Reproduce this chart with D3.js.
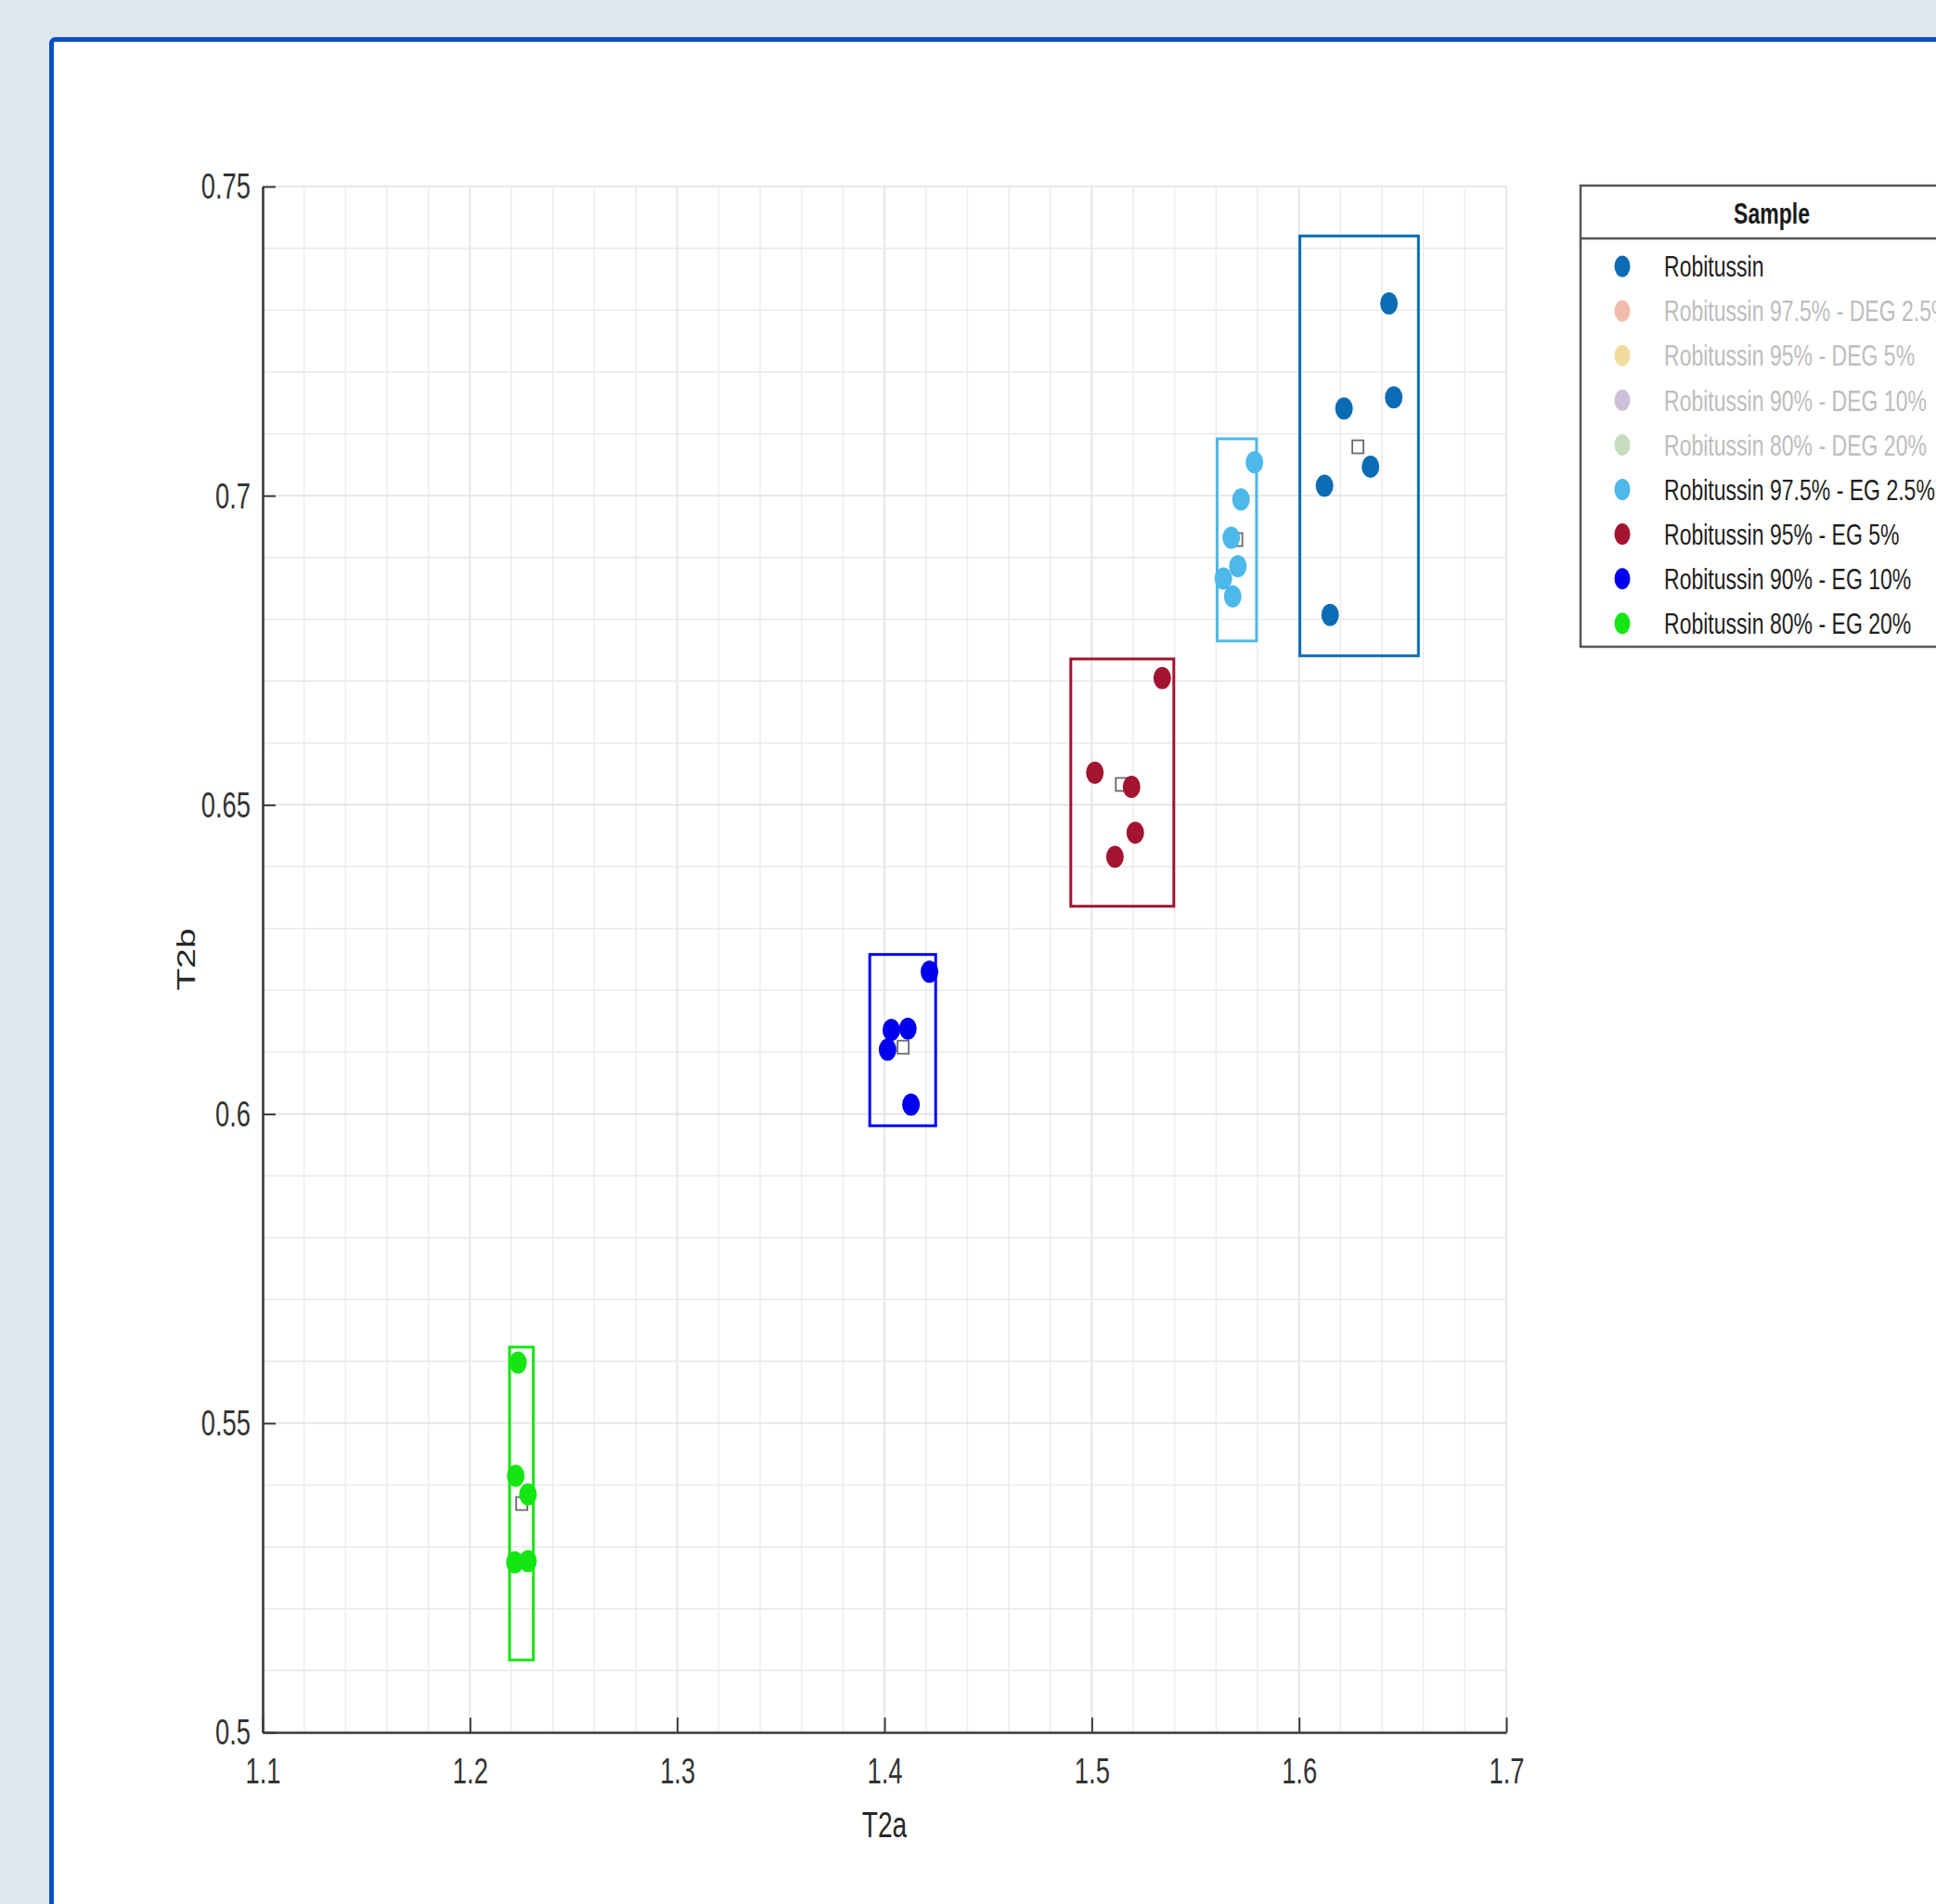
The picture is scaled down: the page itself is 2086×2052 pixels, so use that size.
<!DOCTYPE html>
<html>
<head>
<meta charset="utf-8">
<script src="https://cdn.jsdelivr.net/npm/d3@7"></script>
<style>
body { margin: 0; background: #dfe6ee; overflow: hidden; }
svg { display: block; }
text { font-family: "Liberation Sans", Arial, Helvetica, sans-serif; }
</style>
</head>
<body>
<script>
// legend entries (all 9 samples, only 5 are plotted)
var sampleNames = ["Robitussin", "Robitussin 97.5% - DEG 2.5%", "Robitussin 95% - DEG 5%",
  "Robitussin 90% - DEG 10%", "Robitussin 80% - DEG 20%", "Robitussin 97.5% - EG 2.5%",
  "Robitussin 95% - EG 5%", "Robitussin 90% - EG 10%", "Robitussin 80% - EG 20%"];
var sampleColors = ["#0b6cb3", "#efbcaa", "#f1dc9e", "#cfc0d9", "#c6dcbd",
  "#4cb9ea", "#a2142f", "#0000ee", "#14e614"];
var sampleShown = [true, false, false, false, false, true, true, true, true];

// measured points of the plotted samples (T2a, T2b)
var robT2a = [1.6434, 1.6217, 1.6457, 1.6123, 1.6345, 1.6150];
var robT2b = [0.7311, 0.7141, 0.7159, 0.7016, 0.7047, 0.6807];
var eg25T2a = [1.5785, 1.5720, 1.5673, 1.5705, 1.5635, 1.5680];
var eg25T2b = [0.7054, 0.6994, 0.6932, 0.6886, 0.6866, 0.6837];
var eg5T2a = [1.5340, 1.5015, 1.5192, 1.5210, 1.5112];
var eg5T2b = [0.6705, 0.6552, 0.6529, 0.6455, 0.6416];
var eg10T2a = [1.4217, 1.4033, 1.4113, 1.4015, 1.4128];
var eg10T2b = [0.6230, 0.6136, 0.6138, 0.6104, 0.6015];
var eg20T2a = [1.2232, 1.2221, 1.2280, 1.2217, 1.2280];
var eg20T2b = [0.5598, 0.5415, 0.5385, 0.5275, 0.5277];

// group summaries: mean marker and mean +/- 2 sd box, order rob, eg25, eg5, eg10, eg20
var groupIndex = [0, 5, 6, 7, 8];
var meanT2a = [1.6284, 1.5700, 1.5143, 1.4090, 1.2250];
var meanT2b = [0.7079, 0.6929, 0.6533, 0.6108, 0.5370];
var boxT2aLo = [1.6004, 1.5605, 1.4899, 1.3929, 1.2191];
var boxT2aHi = [1.6576, 1.5795, 1.5396, 1.4247, 1.2306];
var boxT2bLo = [0.6741, 0.6765, 0.6336, 0.5981, 0.5117];
var boxT2bHi = [0.7420, 0.7092, 0.6736, 0.6258, 0.5623];

var xTicks = [1.1, 1.2, 1.3, 1.4, 1.5, 1.6, 1.7];
var yTicks = [0.5, 0.55, 0.6, 0.65, 0.7, 0.75];

var W = 2086, H = 2052;
var squash = 0.72;   // the original picture is narrowed horizontally
var pL = 283, pR = 1623, pT = 201, pB = 1867;

var svg = d3.select("body").append("svg")
  .attr("width", W)
  .attr("height", H);

// white panel with the blue frame
svg.append("rect")
  .attr("x", 55.5).attr("y", 42.5)
  .attr("width", 2300).attr("height", 2300)
  .attr("rx", 4)
  .attr("fill", "#ffffff")
  .attr("stroke", "#0a4fc8")
  .attr("stroke-width", 5);

var x = d3.scaleLinear().domain([1.1, 1.7]).range([pL, pR]);
var y = d3.scaleLinear().domain([0.5, 0.75]).range([pB, pT]);

function isMajor(list, d) {
  return list.some(function(t) { return Math.abs(t - d) < 1e-6; });
}

// grid: minor + major
var grid = svg.append("g");
grid.selectAll(".vx")
  .data(x.ticks(30))
  .enter().append("line")
  .attr("x1", function(d) { return x(d); })
  .attr("x2", function(d) { return x(d); })
  .attr("y1", pT).attr("y2", pB)
  .attr("stroke", function(d) { return isMajor(xTicks, d) ? "#e2e2e2" : "#ededed"; })
  .attr("stroke-width", 1.6);
grid.selectAll(".hy")
  .data(y.ticks(25))
  .enter().append("line")
  .attr("y1", function(d) { return y(d); })
  .attr("y2", function(d) { return y(d); })
  .attr("x1", pL).attr("x2", pR)
  .attr("stroke", function(d) { return isMajor(yTicks, d) ? "#e2e2e2" : "#eaeaea"; })
  .attr("stroke-width", 1.6);

// axes
var xAxis = d3.axisBottom(x).tickValues(xTicks).tickSizeInner(-16).tickSizeOuter(0)
  .tickFormat(d3.format("~g"));
var yAxis = d3.axisLeft(y).tickValues(yTicks).tickSizeInner(-14).tickSizeOuter(0)
  .tickFormat(d3.format("~g"));

var gx = svg.append("g")
  .attr("transform", "translate(0," + pB + ")")
  .call(xAxis);
var gy = svg.append("g")
  .attr("transform", "translate(" + pL + ",0)")
  .call(yAxis);

[gx, gy].forEach(function(g) {
  g.select(".domain").attr("stroke", "#3a3a3a").attr("stroke-width", 2.6);
  g.selectAll(".tick line").attr("stroke", "#3a3a3a").attr("stroke-width", 2);
  g.selectAll(".tick text")
    .attr("fill", "#333333")
    .attr("font-size", 38)
    .attr("font-family", "'Liberation Sans', Arial, sans-serif")
    .attr("transform", "scale(" + squash + ",1)");
});
gx.selectAll(".tick text").attr("y", 28).attr("dy", "0.71em");
gy.selectAll(".tick text").attr("x", -13 / squash).attr("dy", "0.34em");

// axis titles
svg.append("text")
  .attr("transform", "translate(" + ((pL + pR) / 2) + ",1980) scale(" + squash + ",1)")
  .attr("text-anchor", "middle")
  .attr("font-size", 39)
  .attr("fill", "#262626")
  .text("T2a");
svg.append("text")
  .attr("transform", "translate(210," + ((pT + pB) / 2) + ") scale(" + squash + ",1) rotate(-90)")
  .attr("text-anchor", "middle")
  .attr("font-size", 39)
  .attr("fill", "#262626")
  .text("T2b");

// groups
var pts = [[robT2a, robT2b], [eg25T2a, eg25T2b], [eg5T2a, eg5T2b], [eg10T2a, eg10T2b], [eg20T2a, eg20T2b]];
var plot = svg.append("g");

groupIndex.forEach(function(gi, k) {
  var col = sampleColors[gi];
  plot.append("rect")
    .attr("x", x(boxT2aLo[k]))
    .attr("y", y(boxT2bHi[k]))
    .attr("width", x(boxT2aHi[k]) - x(boxT2aLo[k]))
    .attr("height", y(boxT2bLo[k]) - y(boxT2bHi[k]))
    .attr("fill", "none")
    .attr("stroke", col)
    .attr("stroke-width", 3);
  plot.append("rect")
    .attr("x", x(meanT2a[k]) - 6)
    .attr("y", y(meanT2b[k]) - 7)
    .attr("width", 12).attr("height", 14)
    .attr("fill", "#ffffff")
    .attr("stroke", "#6a6a6a")
    .attr("stroke-width", 1.8);
  var xs = pts[k][0], ys = pts[k][1];
  plot.selectAll(null)
    .data(d3.range(xs.length))
    .enter().append("ellipse")
    .attr("cx", function(i) { return x(xs[i]); })
    .attr("cy", function(i) { return y(ys[i]); })
    .attr("rx", 9.5).attr("ry", 12)
    .attr("fill", col);
});

// legend
var lg = svg.append("g");
lg.append("rect")
  .attr("x", 1703).attr("y", 200)
  .attr("width", 420).attr("height", 497)
  .attr("fill", "#ffffff")
  .attr("stroke", "#555555")
  .attr("stroke-width", 2.5);
lg.append("line")
  .attr("x1", 1703).attr("x2", 2123)
  .attr("y1", 257).attr("y2", 257)
  .attr("stroke", "#555555").attr("stroke-width", 2.5);
lg.append("text")
  .attr("transform", "translate(1909,241) scale(" + squash + ",1)")
  .attr("text-anchor", "middle")
  .attr("font-size", 32)
  .attr("font-weight", "bold")
  .attr("fill", "#1a1a1a")
  .text("Sample");

var rows = lg.selectAll(".row")
  .data(sampleNames)
  .enter().append("g")
  .attr("transform", function(d, i) { return "translate(0," + (287 + i * 48.1) + ")"; });
rows.append("ellipse")
  .attr("cx", 1748).attr("cy", 0)
  .attr("rx", 8.5).attr("ry", 11.5)
  .attr("fill", function(d, i) { return sampleColors[i]; });
rows.append("text")
  .attr("transform", "translate(1793,0) scale(" + squash + ",1)")
  .attr("dy", "0.35em")
  .attr("font-size", 32)
  .attr("fill", function(d, i) { return sampleShown[i] ? "#1e1e1e" : "#bdbdbd"; })
  .text(function(d) { return d; });
</script>
</body>
</html>
